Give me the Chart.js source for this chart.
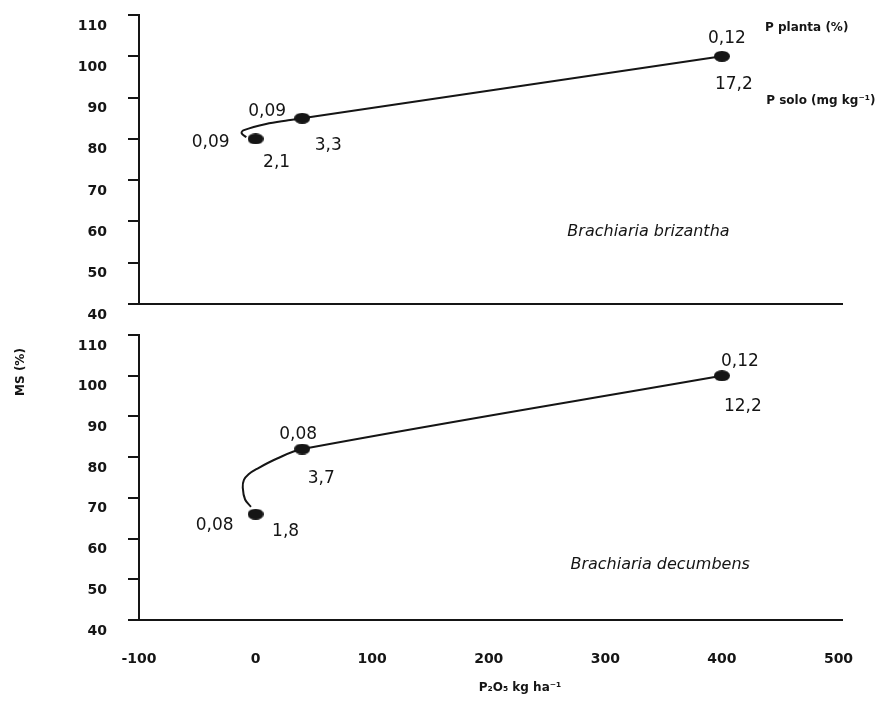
<!DOCTYPE html>
<html lang="pt">
<head>
    <meta charset="UTF-8">
    <title>MS (%) x P2O5 - Brachiaria brizantha / Brachiaria decumbens</title>
    <script src="https://cdn.jsdelivr.net/npm/chart.js"></script>
    <style>
        body { margin: 0; background: #fff; }
        #wrap { position: relative; width: 888px; height: 701px; }
        #topChart { position: absolute; left: 0; top: 0; }
        #bottomChart { position: absolute; left: 0; top: 320px; }
    </style>
</head>
<body>
<div id="wrap">
    <canvas id="topChart" width="888" height="330"></canvas>
    <canvas id="bottomChart" width="888" height="381"></canvas>
</div>

<script>
// doses de P2O5 (kg ha-1) and dry matter (MS %)
const doses = [0, 40, 400];
const msBrizantha = [80, 85, 100];
const msDecumbens = [66, 82, 100];

// P planta (%) and P solo (mg kg-1) written at each point
const pPlantaBrizantha = ["0,09", "0,09", "0,12"];
const pSoloBrizantha = ["2,1", "3,3", "17,2"];
const pPlantaDecumbens = ["0,08", "0,08", "0,12"];
const pSoloDecumbens = ["1,8", "3,7", "12,2"];

// hand drawn response curves
const curveBrizanthaX = [-8, -12, -10, 9, 28, 40, 400];
const curveBrizanthaY = [80.4, 81.4, 82.1, 83.6, 84.5, 85, 100];
const curveDecumbensX = [-4, -9, -11, -10, -6, 1, 18, 40, 400];
const curveDecumbensY = [67.8, 69.6, 72.5, 74.4, 75.8, 77.1, 79.6, 82, 100];

const xTicks = [-100, 0, 100, 200, 300, 400, 500];
const yTicks = [40, 50, 60, 70, 80, 90, 100, 110];

const BLACK = '#151515';
const FONT = 'DejaVu Sans';
const tickFont = { family: FONT, size: 14, weight: 'bold' };

// label offsets (px) from each point: [dx, dy]
const topPlantaOff = [[-45, 4], [-35, -7], [5, -18]];
const topSoloOff = [[21, 24], [26, 27], [12, 28]];
const botPlantaOff = [[-41, 11], [-4, -14], [18, -14]];
const botSoloOff = [[30, 17], [19, 30], [21, 31]];

function ellipseMarker() {
    const c = document.createElement('canvas');
    c.width = 16; c.height = 11;
    const g = c.getContext('2d');
    g.fillStyle = BLACK;
    g.beginPath();
    g.ellipse(8, 5.5, 8, 5.5, 0, 0, Math.PI * 2);
    g.fill();
    return c;
}
const marker = ellipseMarker();

function toXY(xs, ys) {
    return xs.map((x, i) => ({ x: x, y: ys[i] }));
}

function makeData(ms, cx, cy) {
    return {
        datasets: [
            {
                data: toXY(doses, ms),
                pointStyle: marker,
                pointRadius: 6,
                order: 1
            },
            {
                data: toXY(cx, cy),
                showLine: true,
                borderColor: BLACK,
                borderWidth: 2,
                pointRadius: 0,
                tension: 0.35,
                order: 2
            }
        ]
    };
}

function makeOptions(bottom) {
    return {
        responsive: false,
        animation: false,
        layout: { padding: { top: 15, right: 46, left: 0, bottom: 0 } },
        plugins: { legend: { display: false }, tooltip: { enabled: false } },
        scales: {
            x: {
                type: 'linear',
                min: -100,
                max: 503,
                afterBuildTicks: s => { s.ticks = xTicks.map(v => ({ value: v })); },
                afterFit: s => { s.height = bottom ? 81 : 26; },
                grid: { display: true, drawOnChartArea: false, drawTicks: false, color: 'rgba(0,0,0,0)' },
                border: { display: true, color: BLACK, width: 2 },
                ticks: { display: bottom, padding: 31, color: BLACK, font: tickFont }
            },
            y: {
                min: 40,
                max: 110,
                afterBuildTicks: s => { s.ticks = yTicks.map(v => ({ value: v })); },
                afterFit: s => {
                    s.width = 139;
                    // keep the tick padding from pushing the plot area in
                    s.paddingTop = 0;
                    s.paddingBottom = 0;
                },
                grid: { drawOnChartArea: false, drawTicks: true, tickLength: 11, color: BLACK, lineWidth: 2 },
                border: { display: true, color: BLACK, width: 2 },
                ticks: { padding: 21, labelOffset: 11, color: BLACK, font: tickFont }
            }
        }
    };
}

// writes the P values next to the points and the panel notes
function panelText(ms, planta, solo, plantaOff, soloOff, extra) {
    return {
        id: 'panelText',
        afterDatasetsDraw(chart) {
            const ctx = chart.ctx;
            const x = chart.scales.x, y = chart.scales.y;
            ctx.save();
            ctx.fillStyle = BLACK;
            ctx.textAlign = 'center';
            ctx.textBaseline = 'middle';
            ctx.font = '17px "' + FONT + '"';
            doses.forEach((d, i) => {
                const px = x.getPixelForValue(d), py = y.getPixelForValue(ms[i]);
                ctx.fillText(planta[i], px + plantaOff[i][0], py + plantaOff[i][1]);
                ctx.fillText(solo[i], px + soloOff[i][0], py + soloOff[i][1]);
            });
            extra(ctx, x, y);
            ctx.restore();
        }
    };
}

new Chart(document.getElementById('topChart'), {
    type: 'scatter',
    data: makeData(msBrizantha, curveBrizanthaX, curveBrizanthaY),
    options: makeOptions(false),
    plugins: [panelText(msBrizantha, pPlantaBrizantha, pSoloBrizantha, topPlantaOff, topSoloOff, (ctx, x, y) => {
        ctx.font = 'oblique 16px "' + FONT + '"';
        ctx.fillText('Brachiaria brizantha', x.getPixelForValue(337), y.getPixelForValue(57.4));
        ctx.textAlign = 'left';
        ctx.font = 'bold 12px "' + FONT + '"';
        ctx.fillText('P planta (%)', x.getPixelForValue(437), y.getPixelForValue(106.8));
        ctx.fillText('P solo (mg kg\u207B\u00B9)', x.getPixelForValue(438), y.getPixelForValue(89.2));
    })]
});

new Chart(document.getElementById('bottomChart'), {
    type: 'scatter',
    data: makeData(msDecumbens, curveDecumbensX, curveDecumbensY),
    options: makeOptions(true),
    plugins: [panelText(msDecumbens, pPlantaDecumbens, pSoloDecumbens, botPlantaOff, botSoloOff, (ctx, x, y) => {
        ctx.font = 'oblique 16px "' + FONT + '"';
        ctx.fillText('Brachiaria decumbens', x.getPixelForValue(347), y.getPixelForValue(53.5));
        // axis titles
        ctx.font = 'bold 12px "' + FONT + '"';
        ctx.fillText('P\u2082O\u2085 kg ha\u207B\u00B9', 520, 368);
        ctx.translate(21, 52);
        ctx.rotate(-Math.PI / 2);
        ctx.fillText('MS (%)', 0, 0);
    })]
});
</script>
</body>
</html>
